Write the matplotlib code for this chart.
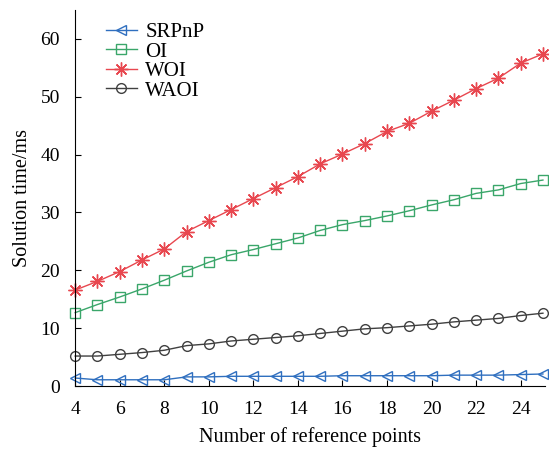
import matplotlib.pyplot as plt
import numpy as np

plt.rcParams['font.family'] = ['Liberation Serif', 'DejaVu Serif']

# data
n_points = list(range(4, 26))
srpnp = [1.4, 1.1, 1.1, 1.1, 1.1, 1.6, 1.6, 1.7, 1.7, 1.7, 1.7, 1.7, 1.8, 1.8,
         1.8, 1.8, 1.8, 1.9, 1.9, 1.9, 2.0, 2.1]
oi = [12.7, 14.1, 15.4, 16.8, 18.3, 19.9, 21.4, 22.7, 23.6, 24.6, 25.6, 26.9,
      27.9, 28.6, 29.4, 30.3, 31.3, 32.2, 33.3, 33.9, 35.0, 35.6]
woi = [16.6, 18.1, 19.8, 21.8, 23.7, 26.7, 28.6, 30.5, 32.4, 34.3, 36.2, 38.4,
       40.1, 41.9, 44.0, 45.4, 47.5, 49.4, 51.4, 53.2, 55.8, 57.4]
waoi = [5.2, 5.2, 5.5, 5.8, 6.2, 7.0, 7.3, 7.8, 8.1, 8.4, 8.7, 9.1, 9.5, 9.9,
        10.1, 10.4, 10.7, 11.1, 11.4, 11.7, 12.2, 12.6]

fig = plt.figure(figsize=(5.49, 4.49), dpi=100)
ax = fig.add_axes([0.137, 0.14, 0.856, 0.838])

ax.plot(n_points, srpnp, color='#2f6fbf', lw=1.0, marker='<', ms=7.5,
        mfc='none', mew=1.0, label='SRPnP', clip_on=False)
ax.plot(n_points, oi, color='#3aa66a', lw=1.0, marker='s', ms=6.5,
        mfc='none', mew=1.0, label='OI', clip_on=False)
ax.plot(n_points, woi, color='#e8474f', lw=1.0, marker=(8, 2, 0), ms=10,
        mew=1.0, label='WOI', clip_on=False)
ax.plot(n_points, waoi, color='#404040', lw=1.0, marker='o', ms=7,
        mfc='none', mew=1.0, label='WAOI', clip_on=False)

ax.set_xlim(4, 25.1)
ax.set_ylim(0, 65)
ax.set_xticks(range(4, 25, 2))
ax.set_yticks(range(0, 61, 10))
ax.tick_params(direction='in', labelsize=14, length=4, pad=11)
ax.spines['top'].set_visible(False)
ax.spines['right'].set_visible(False)

ax.set_xlabel('Number of reference points', fontsize=14.5, labelpad=6)
ax.set_ylabel('Solution time/ms', fontsize=14.5, labelpad=6)

ax.legend(loc='upper left', bbox_to_anchor=(0.047, 0.989), frameon=False,
          fontsize=15, handlelength=1.5, labelspacing=0.0, handletextpad=0.4,
          borderaxespad=0)

fig.savefig('out.png', dpi=100)
